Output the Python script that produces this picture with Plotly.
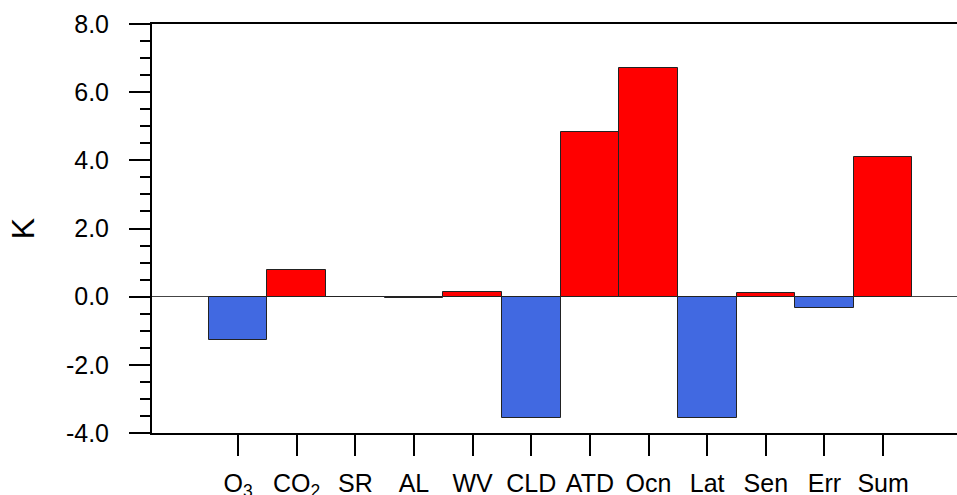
import plotly.graph_objects as go

categories = ["O<sub>3</sub>", "CO<sub>2</sub>", "SR", "AL", "WV", "CLD", "ATD", "Ocn", "Lat", "Sen", "Err", "Sum"]
values = [-1.27, 0.77, 0.0, -0.03, 0.13, -3.56, 4.82, 6.70, -3.56, 0.12, -0.32, 4.10]
y_tick_values = [-4, -2, 0, 2, 4, 6, 8]
y_tick_labels = ["-4.0", "-2.0", "0.0", "2.0", "4.0", "6.0", "8.0"]

positions = list(range(len(categories)))
colors = ["#ff0000" if v > 0 else "#4169e1" for v in values]

FONT = "Liberation Sans, Arial, Helvetica, sans-serif"

fig = go.Figure()
fig.add_trace(go.Bar(
    x=positions, y=values, width=1.0,
    marker=dict(color=colors, line=dict(color="#222222", width=1)),
    showlegend=False,
))

fig.update_layout(
    width=957, height=495,
    margin=dict(l=152, r=0, t=24, b=62),
    paper_bgcolor="white", plot_bgcolor="white",
    font=dict(family=FONT, color="black", size=25),
    bargap=0,
)
fig.update_xaxes(
    range=[-1.467, 12.26],
    tickmode="array", tickvals=positions, ticktext=categories,
    ticks="outside", ticklen=21, tickwidth=2, tickcolor="black",
    showline=True, linewidth=2, linecolor="black", mirror=True,
    showgrid=False, zeroline=False,
    ticklabelstandoff=6,
    tickfont=dict(size=25, family=FONT),
    automargin=False,
)
fig.update_yaxes(
    range=[-4, 8],
    tickmode="array", tickvals=y_tick_values, ticktext=y_tick_labels,
    ticks="outside", ticklen=21, tickwidth=2, tickcolor="black",
    minor=dict(ticks="outside", ticklen=10, tickwidth=1.5, tickcolor="black", dtick=0.5, tick0=0, showgrid=False),
    showline=True, linewidth=2, linecolor="black", mirror=False,
    showgrid=False,
    zeroline=True, zerolinecolor="#444444", zerolinewidth=1,
    ticklabelstandoff=15,
    tickfont=dict(size=25, family=FONT),
    title=dict(text="K", font=dict(size=32, family=FONT), standoff=22),
    automargin=False,
)

# remove the page's default body margin so the figure fills the window exactly
fig.write_html(
    "out.html",
    config={"displayModeBar": False},
    post_script="document.body.style.margin='0';document.body.style.overflow='hidden';",
)
